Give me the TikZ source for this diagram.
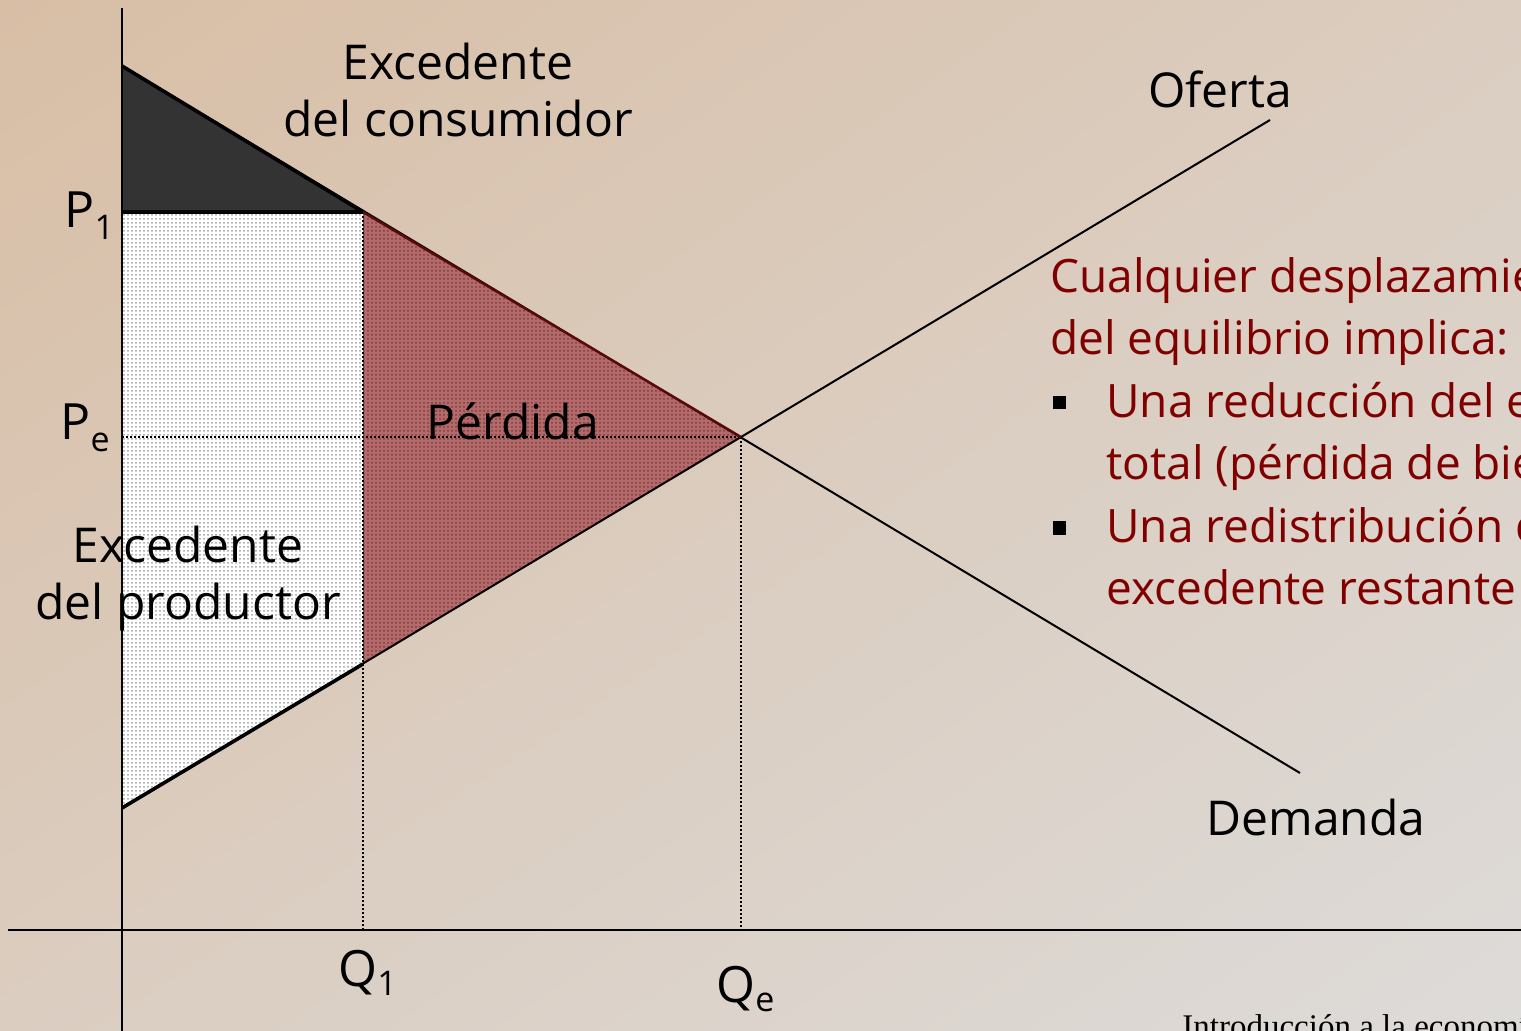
\documentclass[tikz,border=0pt]{standalone}
\usepackage{fontspec}
\setmainfont{Open Sans}
\newfontfamily\footfont{Liberation Serif}
\usetikzlibrary{patterns.meta,shadings}
\definecolor{bgtan}{RGB}{216,190,165}
\definecolor{bggrey}{RGB}{221,219,217}
\definecolor{bgmid}{RGB}{219,205,192}
\definecolor{lossfill}{RGB}{178,106,106}
\definecolor{lossdot}{RGB}{128,58,58}
\definecolor{lossedge}{RGB}{90,10,10}
\definecolor{darkfill}{RGB}{51,51,51}
\definecolor{textred}{RGB}{128,0,0}
\newcommand\lowsub[2]{\raisebox{-#2}{\fontsize{17}{17}\selectfont #1}}
\newcommand\bulsq{\textcolor{black}{\rule[4pt]{6.5pt}{6.5pt}}}
\tikzset{
  axisline/.style={line width=1.2pt, black},
  curveline/.style={line width=1pt, black},
  edgeline/.style={line width=1.8pt, black},
  guide/.style={line width=1pt, black, dash pattern=on 1pt off 1pt},
  lbl/.style={font=\fontsize{24}{28.5}\selectfont, inner sep=0pt, anchor=base, align=center},
  axlbl/.style={font=\fontsize{25}{28.5}\selectfont, inner sep=0pt, anchor=base west},
  redtext/.style={font=\fontsize{23}{31.25}\selectfont, text=textred, inner sep=0pt, anchor=base west, align=left},
}
\begin{document}
\begin{tikzpicture}[x=0.5pt,y=-0.5pt]
\useasboundingbox (0,0) rectangle (1521,1031);
\shade[upper left=bgtan, upper right=bgmid, lower left=bgmid, lower right=bggrey] (0,0) rectangle (1521,1031);

% key points
\coordinate (ytop) at (122,8);
\coordinate (ybot) at (122,1031);
\coordinate (xl) at (8,930);
\coordinate (xr) at (1521,930);
\coordinate (Dtop) at (122,66);
\coordinate (Dend) at (1300,773);
\coordinate (Sbot) at (122,808);
\coordinate (Send) at (1270,120);
\coordinate (P1) at (122,212);
\coordinate (Pe) at (122,437);
\coordinate (A) at (363,212);
\coordinate (E) at (741,437);
\coordinate (B) at (363,664);
\coordinate (Q1) at (363,930);
\coordinate (Qe) at (741,930);

% producer surplus (dotted grey)
\fill[white] (P1) -- (A) -- (B) -- (Sbot) -- cycle;
\fill[pattern={Dots[distance=2pt,radius=0.5pt]}, pattern color=gray!75] (P1) -- (A) -- (B) -- (Sbot) -- cycle;
% deadweight loss
\fill[lossfill] (A) -- (E) -- (B) -- cycle;
\fill[pattern={Dots[distance=2pt,radius=0.5pt]}, pattern color=lossdot] (A) -- (E) -- (B) -- cycle;
% consumer surplus
\fill[darkfill] (Dtop) -- (P1) -- (A) -- cycle;

% guides
\draw[guide] (Pe) -- (E);
\draw[guide] (A) -- (Q1);
\draw[guide] (E) -- (Qe);

% curves
\draw[curveline] (Dtop) -- (Dend);
\draw[curveline] (Sbot) -- (Send);
\draw[line width=1.2pt, lossedge] (A) -- (E);
\draw[edgeline] (Dtop) -- (A);
\draw[edgeline] (P1) -- (A);
\draw[edgeline] (Sbot) -- (B);

% axes
\draw[axisline] (ytop) -- (ybot);
\draw[axisline] (xl) -- (xr);

% labels (base anchor = baseline of the last line)
\node[lbl] (cs) at (458,137) {Excedente\\del consumidor};
\node[lbl] (ps) at (188,620) {Excedente\\del productor};
\node[lbl] (loss) at (513,440) {Pérdida};
\node[lbl] (of) at (1220,108) {Oferta};
\node[lbl] (dem) at (1316,835) {Demanda};
\node[axlbl] (lp1) at (64,228) {P\lowsub{1}{6pt}};
\node[axlbl] (lpe) at (60,440) {P\lowsub{e}{6pt}};
\node[axlbl] (lq1) at (338,986) {Q\lowsub{1}{4.5pt}};
\node[axlbl] (lqe) at (716,1002) {Q\lowsub{e}{4.5pt}};

\node[redtext] (note) at (1050,605) {Cualquier desplazamiento\\del equilibrio implica:\\\makebox[28pt][l]{\hspace*{1.5pt}\bulsq}Una reducción del excedente\\\hspace*{28pt}total (pérdida de bienestar)\\\makebox[28pt][l]{\hspace*{1.5pt}\bulsq}Una redistribución del\\\hspace*{28pt}excedente restante};

\node[font=\footfont\fontsize{16.5}{18}\selectfont, inner sep=0pt, anchor=base west] (foot) at (1182,1037) {Introducción a la economía};
\end{tikzpicture}
\end{document}
